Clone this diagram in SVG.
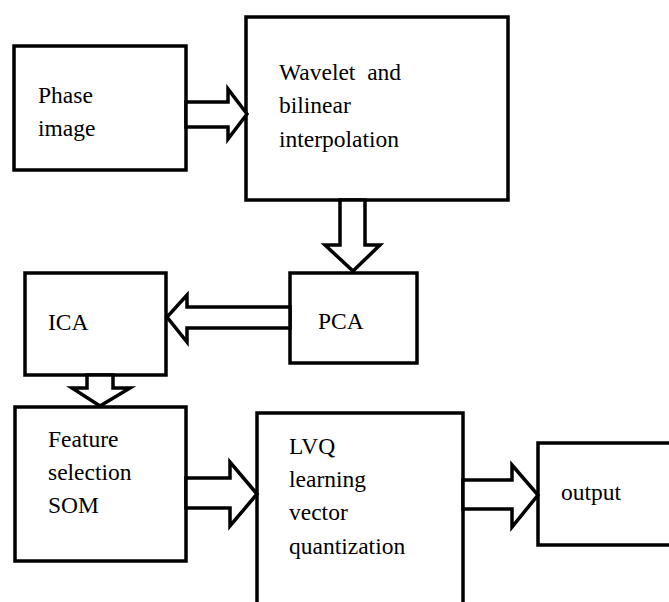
<svg xmlns="http://www.w3.org/2000/svg" width="669" height="602" viewBox="0 0 669 602">
<style>
.box{fill:#fff;stroke:#000;stroke-width:3.5}
.arr{fill:#fff;stroke:#000;stroke-width:3.5;stroke-linejoin:miter}
</style>
<rect width="669" height="602" fill="#fff"/>
<g font-family="Liberation Serif, DejaVu Serif, serif" font-size="23.5" fill="#000">
<g id="phase"><rect class="box" x="14" y="46" width="172" height="124"/><text x="38" y="103">Phase</text><text x="38" y="136">image</text></g>
<g id="wavelet"><rect class="box" x="246" y="17" width="262" height="183"/><text x="279" y="80" xml:space="preserve">Wavelet  and</text><text x="279" y="113">bilinear</text><text x="279" y="147">interpolation</text></g>
<g id="pca"><rect class="box" x="290" y="273" width="127" height="90"/><text x="318" y="329">PCA</text></g>
<g id="ica"><rect class="box" x="25" y="273" width="141" height="102"/><text x="48" y="330">ICA</text></g>
<g id="feature"><rect class="box" x="15" y="407" width="171" height="154"/><text x="48" y="447">Feature</text><text x="48" y="480">selection</text><text x="48" y="513">SOM</text></g>
<g id="lvq"><rect class="box" x="257" y="413" width="206" height="200"/><text x="289" y="454">LVQ</text><text x="289" y="487">learning</text><text x="289" y="520">vector</text><text x="289" y="554">quantization</text></g>
<g id="output"><rect class="box" x="538" y="443" width="140" height="102"/><text x="561" y="500">output</text></g>
</g>
<g id="connectors">
<polygon class="arr" points="186,102 228,102 228,89 247,114 228,139 228,127 186,127"/>
<polygon class="arr" points="340,200 340,245 325,245 353,271 380,245 365,245 365,200"/>
<polygon class="arr" points="290,307 187,307 187,295 167,317 187,342 187,328 290,328"/>
<polygon class="arr" points="87,375 87,388 72,388 100,406 130,388 113,388 113,375"/>
<polygon class="arr" points="186,478 230,478 230,462 257,494 230,526 230,508 186,508"/>
<polygon class="arr" points="463,480 512,480 512,465 538,495 512,527 512,509 463,509"/>
</g>
</svg>
